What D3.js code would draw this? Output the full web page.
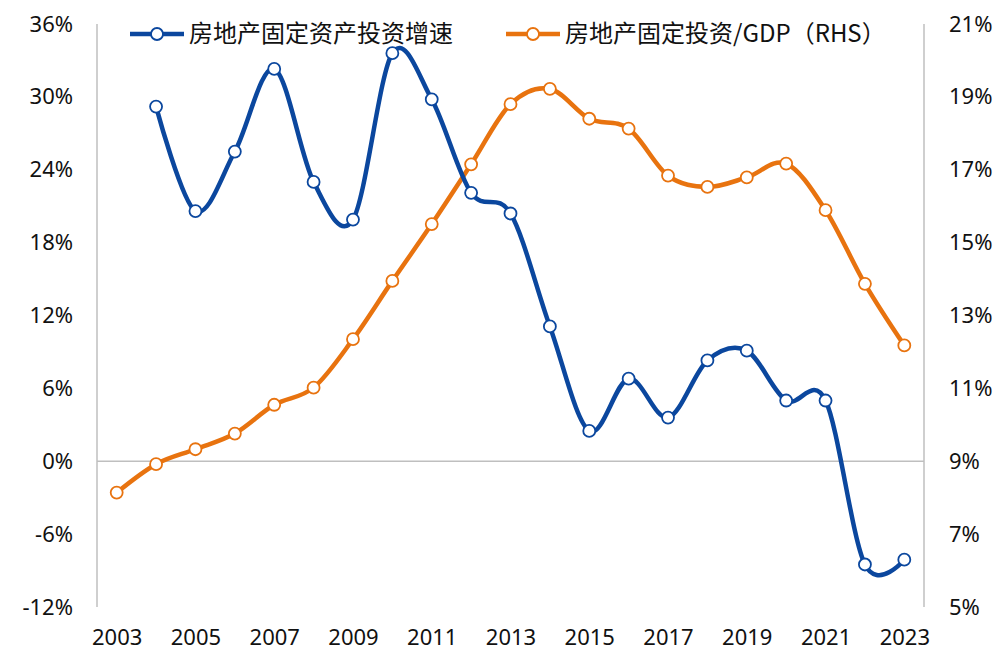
<!DOCTYPE html>
<html>
<head>
<meta charset="utf-8">
<script src="https://cdn.jsdelivr.net/npm/d3@7"></script>
<style>
  body { margin: 0; background: #fff; }
  text { font-family: "Noto Sans", "Noto Sans CJK SC", sans-serif; fill: #111; }
</style>
</head>
<body>
<svg id="chart" width="1002" height="655"></svg>
<script>
// years on the x axis
let years = d3.range(2003, 2024)
let yearLabels = d3.range(2003, 2024, 2)

// 房地产固定资产投资增速 (%), left axis; 2003 has no value
let growth = [null, 29.2, 20.6, 25.5, 32.3, 23.0, 19.9, 33.6, 29.8, 22.1, 20.4,
    11.1, 2.5, 6.8, 3.6, 8.3, 9.1, 5.0, 5.0, -8.5, -8.1]

// 房地产固定投资/GDP (%), right axis
let ratio = [8.14, 8.92, 9.33, 9.76, 10.55, 11.02, 12.35, 13.95, 15.51, 17.15, 18.80,
    19.22, 18.40, 18.13, 16.84, 16.53, 16.79, 17.17, 15.89, 13.87, 12.18]

let leftTicks = d3.range(-12, 37, 6)
let rightTicks = d3.range(5, 22, 2)
let seriesNames = ['房地产固定资产投资增速', '房地产固定投资/GDP（RHS）']
let blue = '#0B479E'
let orange = '#E8730F'
let grid = '#BFBFBF'

let margin = { left: 97, right: 78, top: 24, bottom: 48 }
let width = 1002, height = 655

let svg = d3.select('#chart')

let xscale = d3.scalePoint().domain(years).range([margin.left, width - margin.right]).padding(0.5)
let yleft = d3.scaleLinear().domain([-12, 36]).range([height - margin.bottom, margin.top])
let yright = d3.scaleLinear().domain([5, 21]).range([height - margin.bottom, margin.top])

// axis lines
svg.append('line')
    .attr('x1', margin.left).attr('x2', margin.left)
    .attr('y1', margin.top).attr('y2', height - margin.bottom)
    .style('stroke', grid).style('stroke-width', 1.5)
svg.append('line')
    .attr('x1', width - margin.right).attr('x2', width - margin.right)
    .attr('y1', margin.top).attr('y2', height - margin.bottom)
    .style('stroke', grid).style('stroke-width', 1.5)
svg.append('line')
    .attr('x1', margin.left).attr('x2', width - margin.right)
    .attr('y1', yleft(0)).attr('y2', yleft(0))
    .style('stroke', grid).style('stroke-width', 1.5)

// tick labels
let gl = svg.append('g')
    .attr('transform', `translate(${margin.left},0)`)
    .call(d3.axisLeft(yleft).tickValues(leftTicks).tickSize(0).tickPadding(24).tickFormat(d => d + '%'))
let gr = svg.append('g')
    .attr('transform', `translate(${width - margin.right},0)`)
    .call(d3.axisRight(yright).tickValues(rightTicks).tickSize(0).tickPadding(25).tickFormat(d => d + '%'))
let gx = svg.append('g')
    .attr('transform', `translate(0,${height - margin.bottom})`)
    .call(d3.axisBottom(xscale).tickValues(yearLabels).tickSize(0).tickPadding(22))

;[gl, gr, gx].forEach(g => {
    g.select('.domain').remove()
    g.selectAll('text').style('font-size', '22px').style('fill', '#111')
        .style('font-family', '"Noto Sans", "Noto Sans CJK SC", sans-serif')
})

// series
let lineLeft = d3.line()
    .defined(d => d.v != null)
    .x(d => xscale(d.year))
    .y(d => yleft(d.v))
    .curve(d3.curveCardinal.tension(0))
let lineRight = d3.line()
    .x(d => xscale(d.year))
    .y(d => yright(d.v))
    .curve(d3.curveCardinal.tension(0))

let growthData = years.map((y, i) => ({ year: y, v: growth[i] })).filter(d => d.v != null)
let ratioData = years.map((y, i) => ({ year: y, v: ratio[i] }))

svg.append('path')
    .attr('d', lineRight(ratioData))
    .style('fill', 'none').style('stroke', orange).style('stroke-width', 4.5)
svg.selectAll('.ratiodot').data(ratioData).enter().append('circle')
    .attr('class', 'ratiodot')
    .attr('cx', d => xscale(d.year)).attr('cy', d => yright(d.v))
    .attr('r', 6).style('fill', '#fff').style('stroke', orange).style('stroke-width', 1.8)

svg.append('path')
    .attr('d', lineLeft(growthData))
    .style('fill', 'none').style('stroke', blue).style('stroke-width', 4.5)
svg.selectAll('.growthdot').data(growthData).enter().append('circle')
    .attr('class', 'growthdot')
    .attr('cx', d => xscale(d.year)).attr('cy', d => yleft(d.v))
    .attr('r', 6).style('fill', '#fff').style('stroke', blue).style('stroke-width', 1.8)

// legend
let legend = [
    { name: seriesNames[0], color: blue, x: 130 },
    { name: seriesNames[1], color: orange, x: 506 }
]
legend.forEach(l => {
    let g = svg.append('g').attr('transform', `translate(${l.x},34)`)
    g.append('line').attr('x1', 0).attr('x2', 54).attr('y1', 0).attr('y2', 0)
        .style('stroke', l.color).style('stroke-width', 4.5)
    g.append('circle').attr('cx', 27).attr('cy', 0).attr('r', 6)
        .style('fill', '#fff').style('stroke', l.color).style('stroke-width', 1.8)
    g.append('text').attr('x', 59).attr('y', 0).attr('dy', '0.35em')
        .style('font-size', '24px')
        .style('font-family', '"Noto Sans CJK SC", sans-serif')
        .text(l.name)
})
</script>
</body>
</html>
